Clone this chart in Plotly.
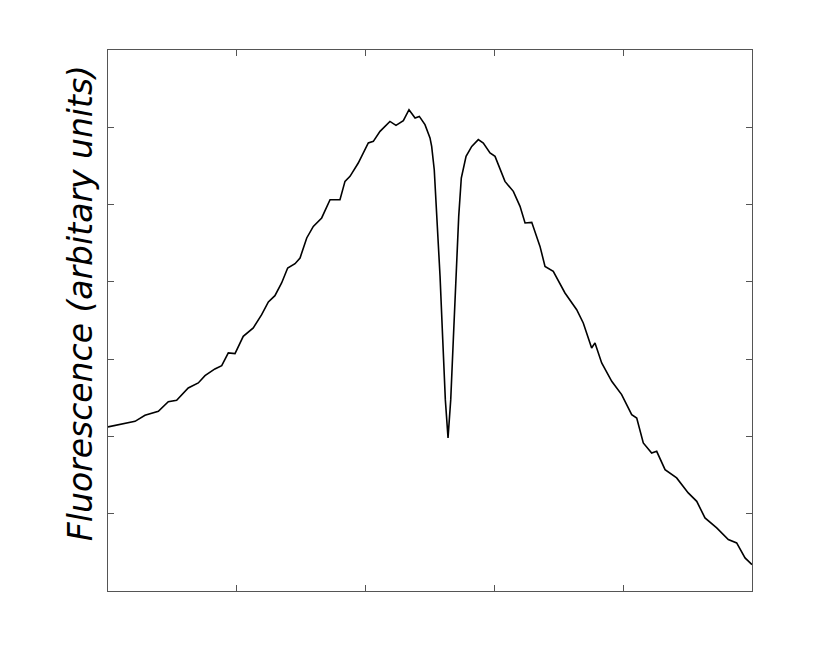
import plotly.graph_objects as go

# spectrum (arbitrary units)
wavelength = [
    0.000, 0.080, 0.132, 0.210, 0.287, 0.391, 0.468, 0.533, 0.623, 0.701,
    0.753, 0.830, 0.883, 0.934, 0.986, 1.050, 1.128, 1.193, 1.245, 1.296,
    1.348, 1.395, 1.452, 1.491, 1.543, 1.594, 1.659, 1.724, 1.801, 1.840,
    1.879, 1.943, 2.021, 2.060, 2.112, 2.189, 2.236, 2.293, 2.337, 2.384,
    2.417, 2.461, 2.500, 2.513, 2.533, 2.557, 2.578, 2.599, 2.619, 2.640,
    2.661, 2.681, 2.702, 2.723, 2.743, 2.780, 2.824, 2.875, 2.914, 2.966,
    3.005, 3.043, 3.082, 3.147, 3.199, 3.238, 3.290, 3.354, 3.393, 3.457,
    3.548, 3.639, 3.690, 3.755, 3.781, 3.833, 3.911, 3.988, 4.066, 4.105,
    4.156, 4.221, 4.260, 4.325, 4.415, 4.505, 4.571, 4.635, 4.726, 4.816,
    4.881, 4.946, 5.000,
]
fluorescence = [
    2.123, 2.153, 2.166, 2.195, 2.273, 2.325, 2.450, 2.467, 2.627, 2.692,
    2.787, 2.873, 2.916, 3.080, 3.071, 3.295, 3.404, 3.576, 3.740, 3.821,
    3.986, 4.180, 4.235, 4.309, 4.568, 4.718, 4.827, 5.063, 5.063, 5.300,
    5.365, 5.538, 5.797, 5.818, 5.947, 6.076, 6.025, 6.085, 6.228, 6.120,
    6.141, 6.034, 5.862, 5.753, 5.451, 4.762, 4.071, 3.252, 2.476, 1.981,
    2.476, 3.252, 4.071, 4.847, 5.344, 5.624, 5.753, 5.840, 5.797, 5.667,
    5.624, 5.473, 5.300, 5.171, 4.977, 4.762, 4.770, 4.459, 4.200, 4.136,
    3.856, 3.640, 3.468, 3.145, 3.210, 2.951, 2.713, 2.541, 2.282, 2.239,
    1.916, 1.786, 1.807, 1.570, 1.463, 1.269, 1.160, 0.946, 0.816, 0.665,
    0.622, 0.428, 0.342,
]

fig = go.Figure()
fig.add_trace(go.Scatter(x=wavelength, y=fluorescence, mode="lines",
                         line=dict(color="black", width=1.6), showlegend=False))

axis = dict(showline=True, linecolor="#555555", linewidth=1, mirror="ticks",
            ticks="inside", ticklen=6, tickcolor="#555555", tickwidth=1,
            showticklabels=False, showgrid=False, zeroline=False, dtick=1)
fig.update_xaxes(range=[0, 5], **axis)
fig.update_yaxes(range=[0, 7], **axis)

fig.add_annotation(text="<i>Fluorescence (arbitary units)</i>", textangle=-90,
                   xref="paper", yref="paper", x=-0.0435, y=0.532,
                   xanchor="center", yanchor="middle", showarrow=False,
                   font=dict(family="DejaVu Sans", size=33, color="black", weight=200))

# page has an 8px body margin, so shift the plot area up/left by that much
fig.update_layout(width=831, height=665, plot_bgcolor="white", paper_bgcolor="white",
                  margin=dict(l=100, r=87, t=42, b=82))
fig.write_html("out.html")
